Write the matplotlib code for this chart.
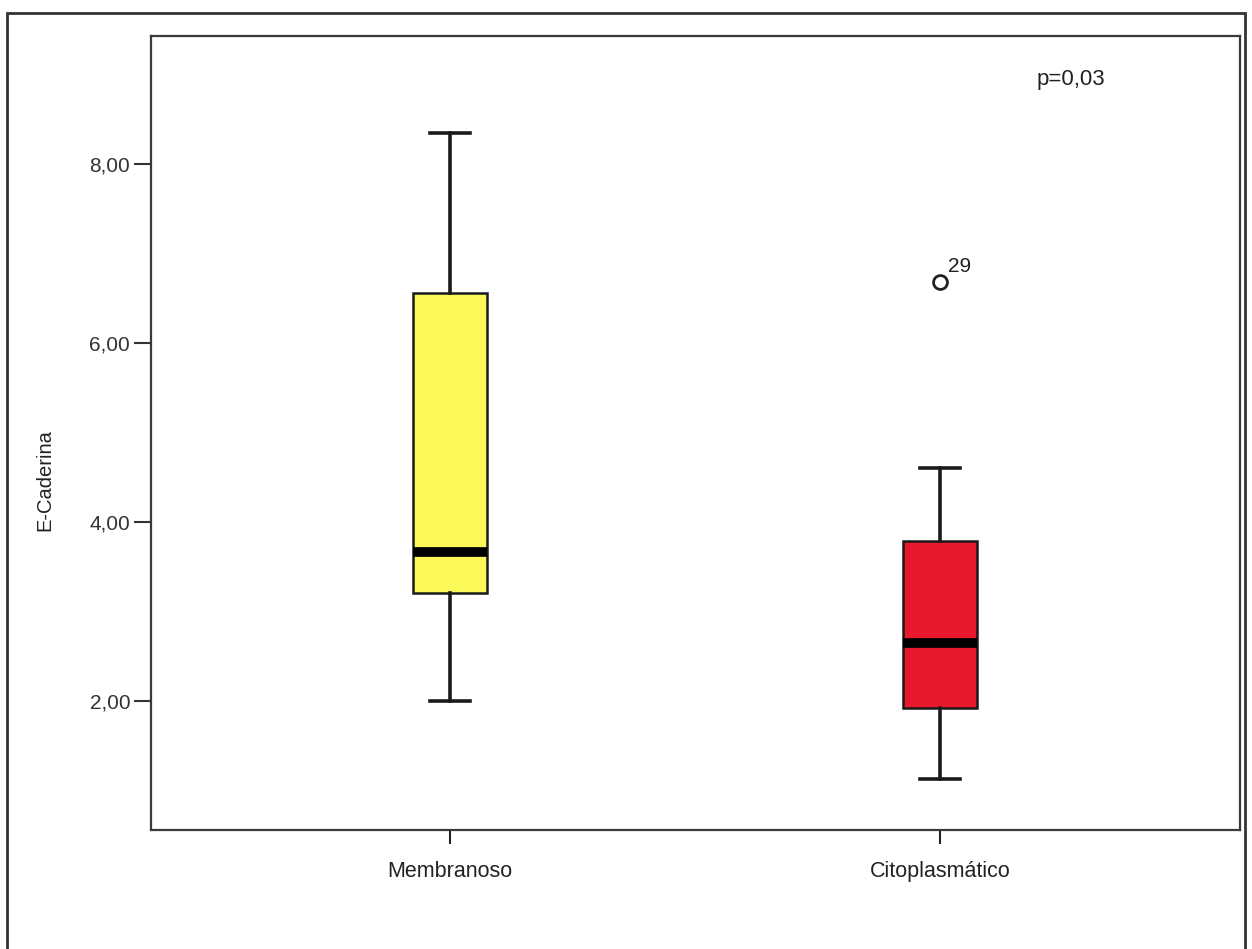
import matplotlib.pyplot as plt
from matplotlib.patches import Rectangle

# E-Cadherin by staining pattern
groups = ['Membranoso', 'Citoplasmático']
whislo = [2.00, 1.12]
q1 = [3.20, 1.92]
med = [3.66, 2.65]
q3 = [6.56, 3.79]
whishi = [8.35, 4.60]
fliers = [[], [6.68]]
flier_ids = [[], ['29']]
colors = ['#fbf85a', '#e8192c']
yticks = [2, 4, 6, 8]

plt.rcParams['font.family'] = ['Liberation Sans', 'DejaVu Sans']

fig = plt.figure(figsize=(12.52, 9.49), dpi=100)
ax = fig.add_axes([151 / 1252, 1 - 830 / 949, (1240 - 151) / 1252, (830 - 36) / 949])

stats = []
for i, g in enumerate(groups):
    stats.append(dict(label=g, whislo=whislo[i], q1=q1[i], med=med[i],
                      q3=q3[i], whishi=whishi[i], fliers=fliers[i]))

pos = [1, 2]
bp = ax.bxp(stats, positions=pos, widths=0.151, patch_artist=True,
            showfliers=True,
            boxprops=dict(linewidth=1.8, edgecolor='#1a1a1a'),
            medianprops=dict(color='black', linewidth=7, solid_capstyle='butt'),
            whiskerprops=dict(color='#1a1a1a', linewidth=2.6),
            capprops=dict(color='#1a1a1a', linewidth=2.6),
            flierprops=dict(marker='o', markersize=10, markerfacecolor='none',
                            markeredgecolor='#222222', markeredgewidth=2))
for b, c in zip(bp['boxes'], colors):
    b.set_facecolor(c)
for cap in bp['caps']:
    x0, x1 = cap.get_xdata()
    xc = (x0 + x1) / 2
    cap.set_xdata([xc - 0.041, xc + 0.041])

# outlier case numbers
for i, ids in enumerate(flier_ids):
    for v, lab in zip(fliers[i], ids):
        ax.annotate(lab, (pos[i], v), xytext=(6, 7), textcoords='offset points',
                    fontsize=15, color='#222222')

ax.set_xlim(0.39, 2.612)
ax.set_ylim(0.555, 9.43)
ax.set_yticks(yticks)
ax.set_yticklabels([f'{t:.2f}'.replace('.', ',') for t in yticks])
ax.set_xticks(pos)
ax.set_xticklabels(groups)
ax.tick_params(axis='y', length=12, width=1.5, labelsize=15, colors='#333333', pad=3)
ax.tick_params(axis='x', length=10, width=1.5, labelsize=15.5, colors='#222222', pad=12)
for s in ax.spines.values():
    s.set_linewidth(1.6)
    s.set_color('#3a3a3a')

ax.set_ylabel('E-Caderina', fontsize=14.5, color='#222222')
ax.yaxis.set_label_coords(-0.089, 0.441)
ax.text(0.8136, 0.9446, 'p=0,03', transform=ax.transAxes, fontsize=16,
        color='#222222', ha='left', va='center')

# outer frame around the whole figure
fig.patches.append(Rectangle((7 / 1252, -0.05), (1245 - 7) / 1252, 1 - 13 / 949 + 0.05,
                             transform=fig.transFigure, fill=False,
                             edgecolor='#333333', linewidth=2))

fig.savefig('out.png', dpi=100)
